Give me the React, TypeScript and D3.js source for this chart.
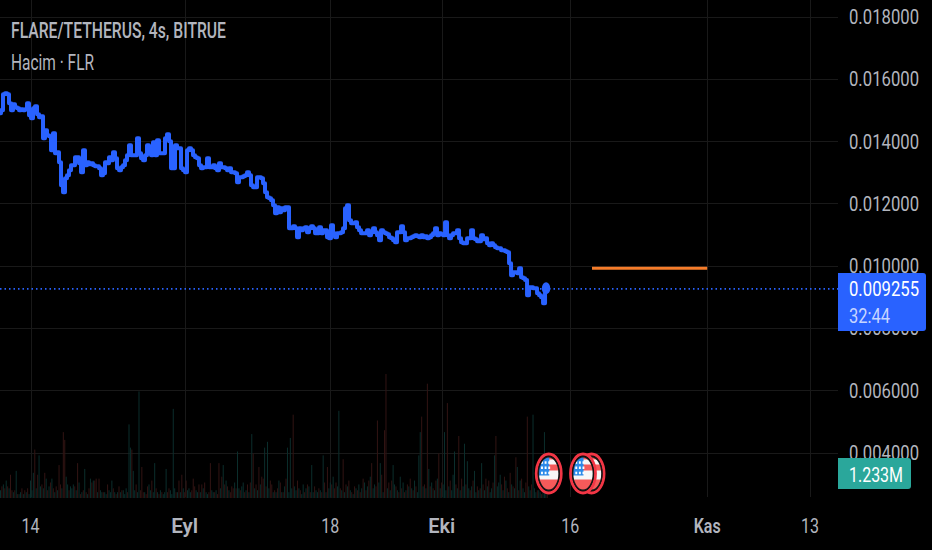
import React from "react";
import * as d3 from "d3";

const W = 932, H = 550;
const priceTicks = [0.018, 0.016, 0.014, 0.012, 0.01, 0.008, 0.006, 0.004];
const timeTicks = [
  { day: 0, label: "14", bold: false },
  { day: 18, label: "Eyl", bold: true },
  { day: 35, label: "18", bold: false },
  { day: 48, label: "Eki", bold: true },
  { day: 63, label: "16", bold: false },
  { day: 79, label: "Kas", bold: true },
  { day: 91, label: "13", bold: false },
];
const firstDay = -3.56;
const sampleStepDays = 0.2335;
const barStepDays = 1 / 6;
const lastPrice = 0.009255;
const orangeLevel = 0.00992;
const orangeDays = [65.55, 79];
const eventDays = [60.5, 64.5, 65.5];

// price in millionths of a Tether
const microPrices = [
  14895,14992,15505,15537,15505,15216,14992,15184,15088,15056,14992,15024,14992,15024,15216,14831,14735,15056,15120,14863,
  14767,14799,14093,14350,14189,14157,13708,14253,13611,13643,13322,12584,12359,12809,12905,13066,13226,13226,13483,13483,
  13290,13002,13708,13226,13322,13258,13290,13226,13194,13194,13130,12905,12970,13322,13290,13483,13387,13643,13451,13130,
  13066,13162,13226,13387,13547,13868,13547,13547,13547,14093,13611,13451,13387,13547,13868,13772,13547,13965,13547,14029,
  13611,13611,13611,14093,14221,13997,13130,13130,13868,13772,13772,13130,13066,13002,13708,13772,13708,13547,13483,13451,
  13226,13130,13162,13162,13451,13162,13162,13226,13130,13066,13290,13162,13162,13130,13066,13130,13002,13002,12970,12680,
  12841,12841,12873,12905,13002,12905,12584,12520,12520,12841,12841,12809,12648,12359,12199,12167,12103,11942,11685,11878,
  11717,11846,11782,11878,11878,11204,11204,11268,11204,10915,11204,11140,11204,11236,11075,11204,11268,11204,11043,11043,
  11236,11043,11140,11140,10915,10883,11300,11043,10915,11043,11043,11075,11204,11846,11942,11461,11364,11364,11396,11236,
  11140,11043,11043,11043,11140,10979,11075,11204,11075,10979,10819,11140,11075,11043,11011,10915,10883,10819,10754,11075,
  11075,11268,11075,10819,10883,10883,10915,10947,10979,10947,10915,10979,10915,10947,10883,10915,10979,11043,11204,10979,
  11043,11011,10979,11396,10979,10883,10979,11043,11043,11140,10883,10754,10722,10722,10883,10883,11140,10883,10851,10787,
  10787,10979,10851,10883,10722,10658,10722,10658,10594,10562,10562,10498,10498,10465,10433,10080,9695,9791,9791,9759,
  9920,9631,9599,9535,9053,9310,9310,9278,9278,9117,9053,8989,8796,9255,
];

// volume in millions, negative = falling bar
const signedVolumes = [
  .4,-.6,.7,-.5,.9,-.6,.5,-1.2,-.4,.3,-.4,1.4,-.2,.2,.3,-.5,.2,-.4,.3,-.5,
  .2,.9,.4,1.3,-2.5,.5,-1.2,2.2,.6,-.7,.5,-1.3,1.0,-.4,.6,-.8,1.0,-.5,.3,-.6,
  .4,-1.7,-.7,.5,-3.4,-3.0,1.1,.7,-.4,.6,.5,.7,-.6,.4,-1.8,.8,-.2,.3,-.4,1.5,
  -.3,.2,-.5,1.0,-.8,.9,-.9,-1.0,.3,-1.0,.4,.3,-.3,.3,.2,-.7,.4,.3,.9,-.5,
  .3,-.2,.3,-.6,.3,-.4,.4,.2,.5,-.3,3.8,2.6,-2.5,1.4,.4,-.7,.3,5.5,-.4,-1.6,
  -.3,.3,-.2,-.6,.7,.4,-.9,.3,1.8,-.5,.3,-.2,.4,-.3,.2,.3,1.5,-.3,-.5,.4,.2,
  4.6,.5,-.3,.3,-.9,.3,-1.2,.5,-.3,-.9,.4,.5,.3,-.4,-1.0,-.6,.4,.3,-.7,.3,-.7,
  .5,-.8,.3,.2,-.3,-1.8,.4,.3,-.3,.4,-.2,-1.8,.5,-1.1,1.7,-.7,.9,-.6,.4,-.3,-.6,
  -.5,.8,-.5,2.4,.5,-.4,.6,.8,-.3,.4,-.7,.3,-.8,3.3,-2.3,.5,-.7,.4,-1.6,.7,-1.1,
  -1.0,2.6,-.6,2.9,.5,-.9,-.7,.3,-.4,.3,-.5,.9,-.8,.3,-.3,.6,-1.0,2.6,.3,3.1,.5,
  -4.3,.6,.4,-.9,.5,-.4,.2,.7,-.3,.5,-.7,.6,-.3,1.7,.3,-.6,.4,.3,-.5,.4,-.3,2.2,
  -.8,.3,-1.6,.5,.8,-.7,1.1,-.5,-.8,.6,4.5,-.5,.4,-2.0,.3,-.7,.6,-.9,.4,-.3,.2,
  -.6,.5,-.4,.7,-.3,.5,-1.0,.8,-.4,.6,-.9,1.1,-1.8,.5,.7,-.6,-4.0,.8,1.8,-1.2,.3,
  -3.5,-6.4,.5,-.8,.4,-.9,1.7,.7,-.6,.4,-.3,1.1,-.5,.8,-.3,.4,-.7,.6,-1.0,.5,-.4,
  .9,-.6,.3,2.2,3.4,-4.2,.6,-.7,.5,-5.9,1.5,-.6,.8,-.5,.4,-.9,1.0,-2.3,.5,-.8,.7,
  3.4,.4,-4.9,.6,-.9,.4,1.2,2.4,-.7,.5,-3.2,.4,-1.0,.6,2.8,-.7,1.9,.5,-.4,.6,-.9,
  1.4,.3,-.6,.4,-.5,1.8,-.7,.4,-1.0,.6,-.9,.3,.5,-.8,2.2,-3.2,.6,.8,1.2,-.7,.4,
  -1.1,.9,-.5,.3,-1.3,.7,-.6,.5,-2.1,1.6,-.4,.9,-1.0,.5,.3,-.8,-4.2,.6,.4,-.7,4.3,
  .5,.3,-.4,.4,.3,-.2,.4,3.4,.4,-.3,
];

const x = d3.scaleLinear().domain([0, 91]).range([30.5, 810]);
const y = d3.scaleLinear().domain([0.018, 0.004]).range([16.5, 452.5]);
const baseline = 498;
const volH = d3.scaleLinear().domain([0, 6.4]).range([0, 124]);
const line = d3
  .line<number>()
  .x((_, i) => x(firstDay + i * sampleStepDays))
  .y((d) => y(d / 1e6))
  .curve(d3.curveStep);

const FONT = "Roboto, 'Liberation Sans', sans-serif";
const GRID = "#191919";
const BLUE = "#2962ff";

function Flag({ cx, clip }: { cx: number; clip: string }) {
  const cy = 473.5;
  const l = cx - 10;
  const t = cy - 16.5;
  const stars: [number, number][] = [];
  [0, 1, 2].forEach((r) => [0, 1, 2].forEach((c) => stars.push([l + 3.2 + c * 3.6, t + 5.5 + r * 5.2])));
  return (
    <g>
      <ellipse cx={cx} cy={cy} rx={12.4} ry={19.4} fill="#000" stroke="#f23645" strokeWidth={3} />
      <clipPath id={clip}>
        <ellipse cx={cx} cy={cy} rx={10.2} ry={16.6} />
      </clipPath>
      <g clipPath={`url(#${clip})`}>
        <rect x={cx - 11} y={cy - 17} width={22} height={34} fill="#f7f7f7" />
        <rect x={cx} y={cy - 9} width={11} height={6} fill="#f55a5a" />
        <rect x={cx} y={cy - 17} width={11} height={3} fill="#f55a5a" />
        <rect x={cx - 11} y={cy + 6} width={22} height={12} fill="#f55a5a" />
        <rect x={cx - 11} y={cy - 17} width={11.5} height={19} fill="#2c8ae8" />
        {stars.map(([a, b], i) => (
          <rect key={i} x={a - 0.9} y={b - 1.2} width={1.9} height={2.5} fill="#fff" />
        ))}
      </g>
      <ellipse cx={cx} cy={cy} rx={10.4} ry={16.8} fill="none" stroke="#151515" strokeWidth={1.5} />
    </g>
  );
}

function Fit({ xx, yy, len, size, fill, weight = 400, anchor = "start", children }: any) {
  return (
    <text
      x={xx}
      y={yy}
      textLength={len}
      lengthAdjust="spacingAndGlyphs"
      fontFamily={FONT}
      fontSize={size}
      fontWeight={weight}
      fill={fill}
      textAnchor={anchor}
    >
      {children}
    </text>
  );
}

export default function App() {
  const lastY = y(lastPrice);
  const lastX = x(firstDay + (microPrices.length - 1) * sampleStepDays);
  return (
    <svg width={W} height={H} style={{ position: "absolute", left: 0, top: 0, display: "block" }}>
      <rect width={W} height={H} fill="#000" />
      {timeTicks.map((t) => (
        <line key={t.label} x1={Math.round(x(t.day)) + 0.5} x2={Math.round(x(t.day)) + 0.5} y1={0} y2={497} stroke={GRID} />
      ))}
      {priceTicks.map((p) => (
        <line key={p} x1={0} x2={838} y1={Math.round(y(p)) + 0.5} y2={Math.round(y(p)) + 0.5} stroke={GRID} />
      ))}
      {signedVolumes.map((v, i) => {
        const h = volH(Math.abs(v));
        return (
          <rect
            key={i}
            x={x(firstDay + i * barStepDays)}
            y={baseline - h}
            width={1}
            height={h}
            fill={v >= 0 ? "#0b2e2c" : "#321413"}
          />
        );
      })}
      <line x1={0} x2={838} y1={lastY} y2={lastY} stroke={BLUE} strokeWidth={1.6} strokeDasharray="1.5 3" />
      <path d={line(microPrices) ?? ""} fill="none" stroke={BLUE} strokeWidth={4} strokeLinejoin="round" strokeLinecap="round" />
      <ellipse cx={lastX} cy={lastY - 0.5} rx={4.2} ry={6} fill={BLUE} />
      <line x1={x(orangeDays[0])} x2={x(orangeDays[1])} y1={y(orangeLevel)} y2={y(orangeLevel)} stroke="#f57c2a" strokeWidth={3} />
      <Flag cx={x(eventDays[2])} clip="f3" />
      <Flag cx={x(eventDays[1])} clip="f2" />
      <Flag cx={x(eventDays[0])} clip="f1" />

      <Fit xx={11} yy={38} len={215} size={22} fill="#b2b5be" weight={500}>FLARE/TETHERUS, 4s, BITRUE</Fit>
      <Fit xx={11} yy={70} len={83} size={21.5} fill="#b2b5be">Hacim · FLR</Fit>

      {priceTicks.map((p) => (
        <Fit key={p} xx={849} yy={y(p) + 7.5} len={70} size={21} fill="#b2b5be">{p.toFixed(6)}</Fit>
      ))}
      {timeTicks.map((t) => (
        <Fit
          key={t.label}
          xx={x(t.day)}
          yy={533}
          len={t.bold ? 27 : 18}
          size={21}
          fill="#b2b5be"
          weight={t.bold ? 600 : 400}
          anchor="middle"
        >
          {t.label}
        </Fit>
      ))}

      <path d="M838 273H923a3 3 0 0 1 3 3V328a3 3 0 0 1 -3 3H838Z" fill={BLUE} />
      <Fit xx={849} yy={296} len={70} size={21} fill="#ffffff">{lastPrice.toFixed(6)}</Fit>
      <Fit xx={849} yy={323} len={41} size={21} fill="#c7d5ff">32:44</Fit>
      <path d="M838 458H908a3 3 0 0 1 3 3V486a3 3 0 0 1 -3 3H838Z" fill="#2aa79b" />
      <Fit xx={849} yy={482} len={54} size={21} fill="#ffffff">1.233M</Fit>
    </svg>
  );
}
